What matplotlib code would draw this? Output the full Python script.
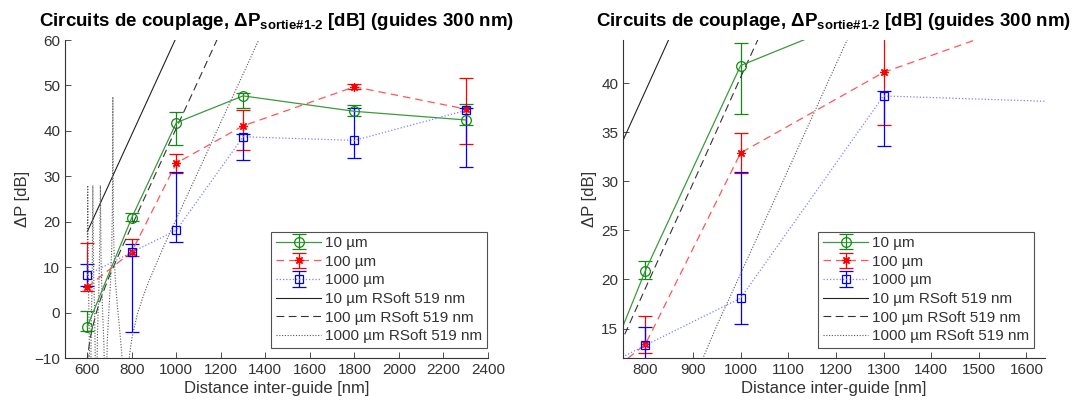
import matplotlib
matplotlib.use('Agg')
import matplotlib.pyplot as plt
import numpy as np

plt.rcParams['font.family'] = ['Liberation Sans', 'DejaVu Sans']
plt.rcParams['mathtext.fontset'] = 'custom'
plt.rcParams['mathtext.rm'] = 'Liberation Sans'
plt.rcParams['mathtext.it'] = 'Liberation Sans:italic'
plt.rcParams['mathtext.bf'] = 'Liberation Sans:bold'

# ---------------- data ----------------
gaps = [600, 800, 1000, 1300, 1800, 2300]

y_10 = [-3.1, 20.9, 41.8, 47.7, 44.3, 42.4]
lo_10 = [-4.0, 20.1, 36.9, 45.1, 43.3, 41.3]
hi_10 = [0.3, 21.9, 44.1, 48.3, 45.8, 45.9]

y_100 = [5.6, 13.4, 32.9, 41.1, 49.7, 44.8]
lo_100 = [4.8, 12.5, 30.8, 35.7, 49.2, 37.0]
hi_100 = [15.4, 16.3, 34.9, 44.7, 50.3, 51.7]

y_1000 = [8.3, 13.3, 18.1, 38.7, 37.9, 44.5]
lo_1000 = [5.8, -4.3, 15.5, 33.6, 34.0, 32.1]
hi_1000 = [10.8, 15.2, 31.0, 39.2, 45.1, 45.0]

rs10_d = [600, 700, 800, 900, 1000, 1100, 1200]
rs10_v = [17.8, 28.5, 39.2, 49.9, 60.6, 71.3, 82.0]

rs100_d = [600, 605, 610, 620, 640, 660, 680, 700, 750, 800, 900, 1000, 1100, 1200, 1300]
rs100_v = [-10.9, -8.5, -6.7, -4.0, -0.1, 3.0, 5.6, 8.1, 13.7, 19.1, 29.8, 40.6, 51.2, 61.9, 72.6]

rs1000_d = [600, 602, 604, 608, 613, 618, 622, 625, 628, 634, 640, 646, 652, 656,
            659, 662, 668, 675, 682, 690, 698, 705, 710, 713, 715, 717, 720, 726,
            735, 745, 755, 763, 771, 780, 790, 800, 825, 850, 875, 900, 950, 1000,
            1100, 1200, 1300, 1400]
rs1000_v = [9.2, 28.0, 10.6, -1.6, -25.0, -2.2, 7.2, 28.0, 10.6, -2.8, -25.0, -4.5, 5.3, 14.5,
            28.0, 11.1, 1.5, -7.3, -25.0, -6.2, 1.2, 7.2, 14.5, 23.7, 47.5, 21.0, 13.9, 7.2,
            1.6, -3.5, -9.0, -15.8, -30.0, -15.5, -9.3, -5.8, -0.3, 3.4, 6.7, 9.6, 15.3, 20.6,
            31.2, 41.9, 52.5, 63.2]

labels = ['10 µm', '100 µm', '1000 µm',
          '10 µm RSoft 519 nm', '100 µm RSoft 519 nm', '1000 µm RSoft 519 nm']

title = 'Circuits de couplage, ΔP$_{\\mathbf{sortie\\#1\u20102}}$ [dB] (guides 300 nm)'

W, H = 1081, 412
fig = plt.figure(figsize=(W / 100, H / 100), dpi=100)
ax1 = fig.add_axes([65 / W, 1 - 358 / H, (488 - 65) / W, (358 - 40) / H])
ax2 = fig.add_axes([623 / W, 1 - 358 / H, (1045 - 623) / W, (358 - 40) / H])

axcol = '#333333'
asterisk = (8, 2, 0)


def draw(ax, leg_right):
    g = np.array(gaps)
    series = [
        (y_10, lo_10, hi_10, 'o', '-', '#3c9a3c', '#138a13', 7),
        (y_100, lo_100, hi_100, asterisk, (0, (6, 4)), '#ff5555', '#ff0000', 6),
        (y_1000, lo_1000, hi_1000, 's', (0, (1, 1.6)), '#8080ff', '#0000ff', 5.5),
    ]
    handles = []
    for i, (yv, lo, hi, mk, ls, lc, ec, ms) in enumerate(series):
        yv = np.array(yv)
        err = [yv - np.array(lo), np.array(hi) - yv]
        h = ax.errorbar(g, yv, yerr=err, marker=mk, ls=ls, color=lc, ecolor=ec,
                        mec=ec, mfc='none', ms=ms, mew=0.9, lw=0.9, elinewidth=0.9,
                        capsize=5, capthick=0.9, label=labels[i])
        handles.append(h)
    h1, = ax.plot(rs10_d, rs10_v, color='#222222', lw=0.8, label=labels[3])
    h2, = ax.plot(rs100_d, rs100_v, color='#333333', lw=0.8, ls=(0, (7, 4)), label=labels[4])
    h3, = ax.plot(rs1000_d, rs1000_v, color='#555555', lw=0.8, ls=(0, (1, 1.5)), label=labels[5])
    handles += [h1, h2, h3]

    for s in ['top', 'right']:
        ax.spines[s].set_visible(False)
    for s in ['left', 'bottom']:
        ax.spines[s].set_color(axcol)
        ax.spines[s].set_linewidth(0.8)
    ax.tick_params(direction='in', length=4, width=0.6, colors=axcol, labelsize=11)
    ax.set_xlabel('Distance inter-guide [nm]', fontsize=12, color=axcol, labelpad=3)
    ax.set_ylabel('ΔP [dB]', fontsize=12, color=axcol, labelpad=3)
    ax.set_title(title, fontsize=13.5, fontweight='bold', color='black', pad=10)
    leg = ax.legend(handles, labels, loc='lower right',
                    bbox_to_anchor=(leg_right / W, 1 - 347.7 / H),
                    bbox_transform=fig.transFigure, borderaxespad=0, fontsize=11,
                    frameon=True, fancybox=False, edgecolor='#262626',
                    handlelength=3.0, handletextpad=0.25, labelspacing=0.3,
                    borderpad=0.3)
    leg.get_frame().set_linewidth(0.8)
    for t in leg.get_texts():
        t.set_color(axcol)


draw(ax1, 487)
ax1.set_xlim(500, 2400)
ax1.set_ylim(-10, 60)
ax1.set_xticks(np.arange(600, 2401, 200))
ax1.set_yticks(np.arange(-10, 61, 10))

draw(ax2, 1034)
ax2.set_xlim(753, 1639)
ax2.set_ylim(12, 44.4)
ax2.set_xticks(np.arange(800, 1601, 100))
ax2.set_yticks(np.arange(15, 41, 5))

fig.savefig('out.png', dpi=100)
